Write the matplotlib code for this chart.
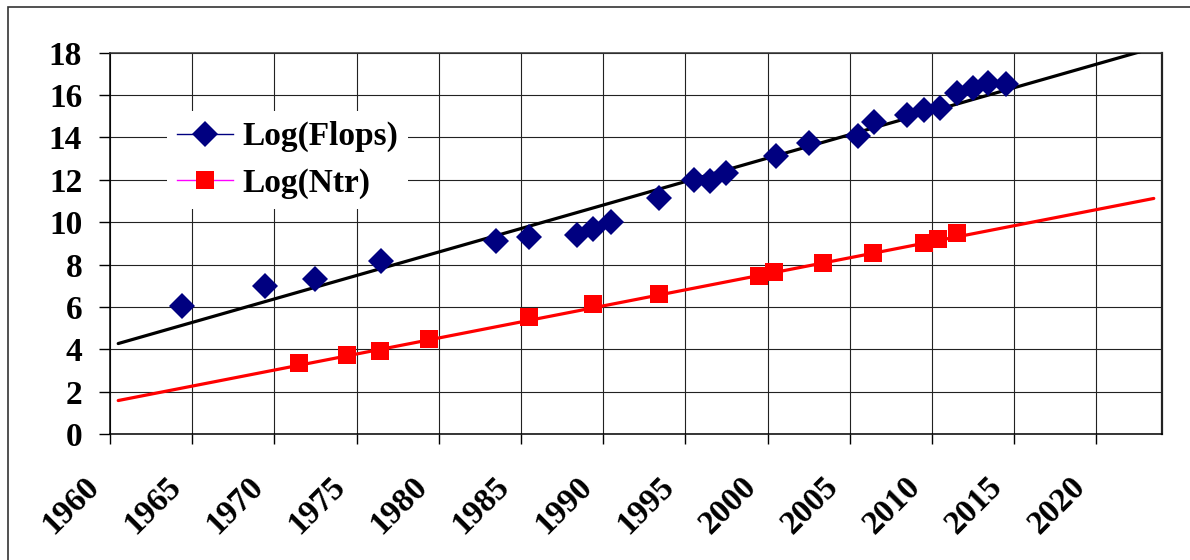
import matplotlib
matplotlib.use("Agg")
import matplotlib.pyplot as plt
from matplotlib.lines import Line2D
from matplotlib.patches import Rectangle
from matplotlib.transforms import ScaledTranslation

# Log(Flops) points (blue diamonds)
flops_years = [1964.4, 1969.4, 1972.5, 1976.5, 1983.5, 1985.5, 1988.4, 1989.4,
               1990.5, 1993.4, 1995.5, 1996.5, 1997.5, 2000.5, 2002.5, 2005.5,
               2006.5, 2008.5, 2009.5, 2010.5, 2011.5, 2012.5, 2013.4, 2014.5]
flops_log = [6.03, 6.98, 7.30, 8.17, 9.11, 9.30, 9.38, 9.70,
             10.03, 11.12, 11.99, 11.96, 12.32, 13.14, 13.74, 14.06,
             14.75, 15.04, 15.28, 15.40, 16.10, 16.34, 16.57, 16.54]

# Log(Ntr) points (red squares)
ntr_years = [1971.5, 1974.4, 1976.4, 1979.4, 1985.5, 1989.4, 1993.4,
             1999.5, 2000.4, 2003.4, 2006.4, 2009.5, 2010.4, 2011.5]
ntr_log = [3.35, 3.74, 3.93, 4.49, 5.53, 6.16, 6.59,
           7.45, 7.66, 8.06, 8.54, 9.04, 9.19, 9.51]

# trend line end points
trend_years = [1960.5, 2023.5]
flops_trend = [4.27, 18.23]
ntr_trend = [1.58, 11.12]

x_ticks = [1960, 1965, 1970, 1975, 1980, 1985, 1990, 1995, 2000, 2005, 2010, 2015, 2020]
y_ticks = [0, 2, 4, 6, 8, 10, 12, 14, 16, 18]

FONT = "Liberation Serif"
W, H = 1190, 560

fig = plt.figure(figsize=(W / 100, H / 100), dpi=100)
ax = fig.add_axes([110 / W, 1 - 434 / H, (1162 - 110) / W, (434 - 52.7) / H])

ax.plot(trend_years, flops_trend, color="black", lw=2.3, zorder=3, solid_capstyle="round")
ax.plot(trend_years, ntr_trend, color="#ff0000", lw=2.3, zorder=3, solid_capstyle="round")
ax.plot(flops_years, flops_log, linestyle="none", marker="D", ms=12.8,
        color="#000080", mew=0, zorder=4)
ax.plot(ntr_years, ntr_log, linestyle="none", marker="s", ms=12.4,
        color="#ff0000", mew=0, zorder=4)

ax.set_xlim(1960, 2024)
ax.set_ylim(0, 18)
ax.set_xticks(x_ticks)
ax.set_yticks(y_ticks)
ax.set_xticklabels([str(y) for y in x_ticks], rotation=45, ha="right", va="center",
                   rotation_mode="anchor", fontsize=24, fontweight="bold", family=FONT)
ax.set_yticklabels([str(v) for v in y_ticks], fontsize=24, fontweight="bold", family=FONT)
ax.tick_params(axis="x", length=7.2, width=1.0, pad=27, color="black")
ax.tick_params(axis="y", length=8, width=1.0, pad=12, color="black")

shift = ScaledTranslation(-16 / 100, 0, fig.dpi_scale_trans)
for lab in ax.get_xticklabels():
    lab.set_transform(lab.get_transform() + shift)

ax.grid(True, color="#222222", lw=0.8)
ax.set_axisbelow(True)
for side in ["left", "bottom"]:
    ax.spines[side].set_color("black")
    ax.spines[side].set_linewidth(1.1)
ax.spines["top"].set_color("#333333")
ax.spines["top"].set_linewidth(1.1)
ax.spines["right"].set_color("#222222")
ax.spines["right"].set_linewidth(1.6)

handles = [
    Line2D([], [], color="#000080", lw=1.0, marker="D", ms=12.8, mew=0, markerfacecolor="#000080"),
    Line2D([], [], color="#ff00ff", lw=1.0, marker="s", ms=12.4, mew=0, markerfacecolor="#ff0000"),
]
leg = ax.legend(handles, ["Log(Flops)", "Log(Ntr)"], loc="center",
                bbox_to_anchor=(287.5 / W, 1 - 160 / H), bbox_transform=fig.transFigure,
                prop={"family": FONT, "weight": "bold", "size": 24},
                frameon=True, fancybox=False, framealpha=1, edgecolor="none",
                facecolor="white", handlelength=1.7, handletextpad=0.28,
                labelspacing=0.45, borderpad=0.3)
leg.set_zorder(5)

# outer chart border
fig.patches.append(Rectangle((7.7 / W, -0.1), 1.2, 1.1 - 7.3 / H, transform=fig.transFigure,
                             fill=False, edgecolor="#333333", lw=1.2))

fig.savefig("out.png", dpi=100)
